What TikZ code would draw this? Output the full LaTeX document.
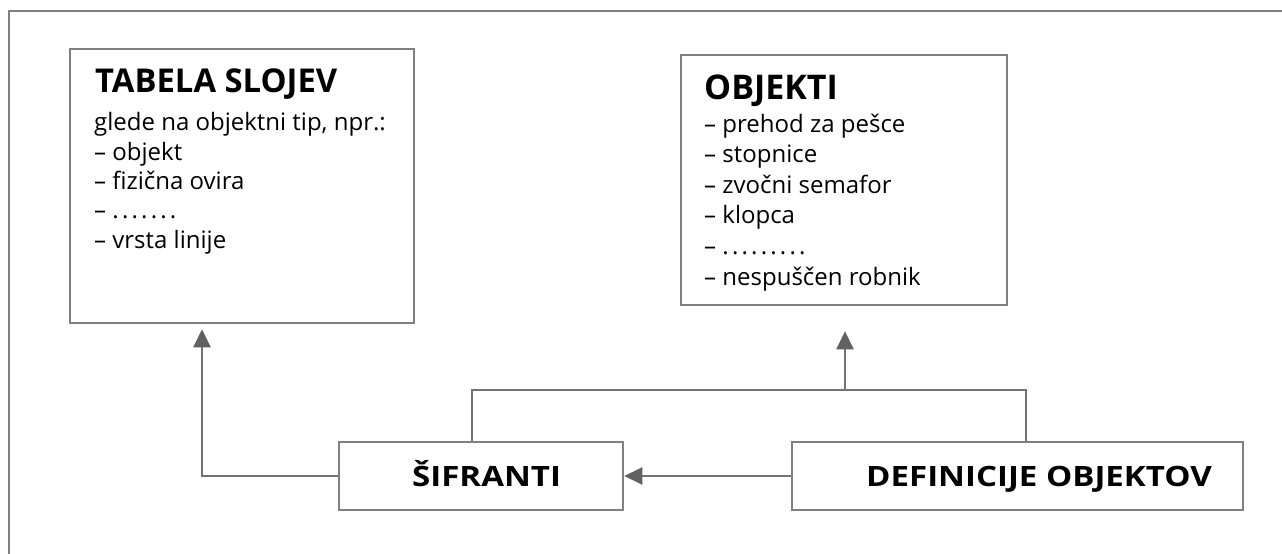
\documentclass[tikz,border=0pt]{standalone}
\usepackage{fontspec}
\setmainfont{Open Sans}
\newfontfamily\lblfont{Open Sans}[FakeStretch=1.18]
\newcommand\dotrow[1]{\foreach \i in {1,...,#1}{.\kern3.2pt}}
\usetikzlibrary{arrows.meta}
\begin{document}
\begin{tikzpicture}[x=1pt,y=-1pt,
  box/.style={draw=black!50,line width=2.5pt,inner sep=0pt},
  conn/.style={draw=black!55,line width=2pt},
  arr/.style={conn,-{Triangle[length=18pt,width=17pt]},arrows={[color=black!62]}},
  ttl/.style={font=\fontsize{34}{38}\selectfont\bfseries,inner sep=0pt,anchor=base west},
  bdy/.style={font=\fontsize{24}{29.3}\selectfont,inner sep=0pt,align=left,anchor=base west},
  lbl/.style={font=\lblfont\fontsize{28}{32}\selectfont\bfseries,inner sep=0pt,anchor=base west}]
\useasboundingbox (0,0) rectangle (1282,554);
\draw[draw=black!50,line width=2pt] (9,554) -- (9,11) -- (1282,11);
% boxes
\node[box,minimum width=344pt,minimum height=274pt] (tab) at (242,186) {};
\node[box,minimum width=326pt,minimum height=250pt] (obj) at (844,180) {};
\node[box,minimum width=284pt,minimum height=68pt] (sif) at (481,476) {};
\node[box,minimum width=451pt,minimum height=68pt] (def) at (1017.5,476) {};
% texts
\node[ttl,font=\fontsize{32.8}{38}\selectfont\bfseries] (tabt) at (95,92) {TABELA SLOJEV};
\node[bdy] (tabb) at (94,248) {glede na objektni tip, npr.:\\– objekt\\– fizična ovira\\– \dotrow{7}\\– vrsta linije};
\node[ttl] (objt) at (704,99) {OBJEKTI};
\node[bdy,font=\fontsize{24}{30.6}\selectfont] (objb) at (704,285) {– prehod za pešce\\– stopnice\\– zvočni semafor\\– klopca\\– \dotrow{9}\\– nespuščen robnik};
\node[lbl] (sifl) at (412,486) {ŠIFRANTI};
\node[lbl] (defl) at (866,486) {DEFINICIJE OBJEKTOV};
% connectors
\coordinate (ja) at (472,390);
\coordinate (jb) at (1026,390);
\coordinate (jc) at (845,390);
\coordinate (jl) at (202,476);
\draw[conn] (sif.north -| ja) -- (ja) -- (jb) -- (def.north -| jb);
\draw[arr,shorten >=25pt] (jc) -- (obj.south -| jc);
\draw[arr,shorten >=5pt] (sif.west) -- (jl) -- (tab.south -| jl);
\draw[arr] (def.west) -- (sif.east);
\end{tikzpicture}
\end{document}
